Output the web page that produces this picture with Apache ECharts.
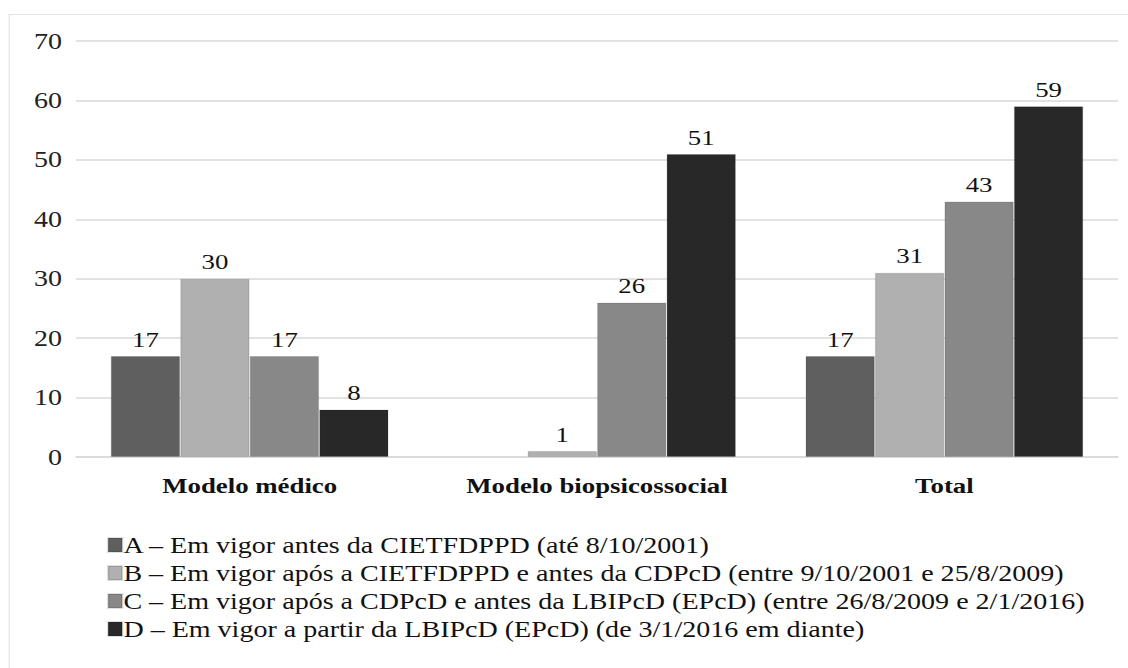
<!DOCTYPE html>
<html>
<head>
<meta charset="utf-8">
<script src="https://cdn.jsdelivr.net/npm/echarts@6/dist/echarts.min.js"></script>
<style>
  html, body { margin: 0; padding: 0; background: #fff; overflow: hidden; }
  #wrap { width: 1128px; height: 668px; overflow: hidden; }
  /* The chart is laid out on a narrower canvas and widened horizontally,
     giving the broad serif lettering of the printed figure. */
  #chart { width: 925px; height: 668px; transform: scaleX(1.2195); transform-origin: 0 0; }
</style>
</head>
<body>
<div id="wrap"><div id="chart"></div></div>
<script>
// Legal models by period of validity
const categories = ['Modelo médico', 'Modelo biopsicossocial', 'Total'];
const seriesNames = [
  'A – Em vigor antes da CIETFDPPD (até 8/10/2001)',
  'B – Em vigor após a CIETFDPPD e antes da CDPcD (entre 9/10/2001 e 25/8/2009)',
  'C – Em vigor após a CDPcD e antes da LBIPcD (EPcD) (entre 26/8/2009 e 2/1/2016)',
  'D – Em vigor a partir da LBIPcD (EPcD) (de 3/1/2016 em diante)'
];
const valuesA = [17, null, 17];
const valuesB = [30, 1, 31];
const valuesC = [17, 26, 43];
const valuesD = [8, 51, 59];
const yTicks = { min: 0, max: 70, step: 10 };
const seriesColors = ['#5f5f5f', '#b0b0b0', '#888888', '#282828'];

const serif = '"Liberation Serif", "DejaVu Serif", serif';
const chart = echarts.init(document.getElementById('chart'), null, { renderer: 'svg' });

const allValues = [valuesA, valuesB, valuesC, valuesD];

chart.setOption({
  animation: false,
  backgroundColor: '#ffffff',
  graphic: [{
    type: 'rect',
    shape: { x: 7.6, y: 14.5, width: 1000, height: 700 },
    style: { fill: 'none', stroke: '#e3e3e3', lineWidth: 1 },
    silent: true
  }],
  grid: { left: 62.3, right: 8.2, top: 41, bottom: 211 },
  legend: {
    orient: 'vertical',
    left: 87.7,
    top: 531,
    padding: 0,
    itemWidth: 11.5,
    itemHeight: 14,
    itemGap: 0,
    icon: 'rect',
    textStyle: {
      fontFamily: serif, fontSize: 23, lineHeight: 28, color: '#111',
      padding: [0, 0, 0, -4]
    },
    data: seriesNames
  },
  xAxis: {
    type: 'category',
    data: categories,
    axisLine: { show: true, lineStyle: { color: '#d9d9d9', width: 1.5 } },
    axisTick: { show: false },
    axisLabel: {
      fontFamily: serif, fontSize: 22, fontWeight: 'bold', color: '#111', margin: 17
    }
  },
  yAxis: {
    type: 'value',
    min: yTicks.min,
    max: yTicks.max,
    interval: yTicks.step,
    axisLine: { show: false },
    axisTick: { show: false },
    splitLine: { lineStyle: { color: '#d9d9d9', width: 1.5 } },
    axisLabel: { fontFamily: serif, fontSize: 23, color: '#222', margin: 11.5 }
  },
  series: seriesNames.map((name, i) => ({
    name,
    type: 'bar',
    data: allValues[i],
    barGap: '0%',
    barCategoryGap: '20%',
    itemStyle: { color: seriesColors[i], borderColor: 'rgba(0,0,0,0.12)', borderWidth: 1 },
    label: {
      show: true,
      position: 'top',
      distance: 6,
      fontFamily: serif,
      fontSize: 22,
      color: '#111'
    }
  }))
});
</script>
</body>
</html>
